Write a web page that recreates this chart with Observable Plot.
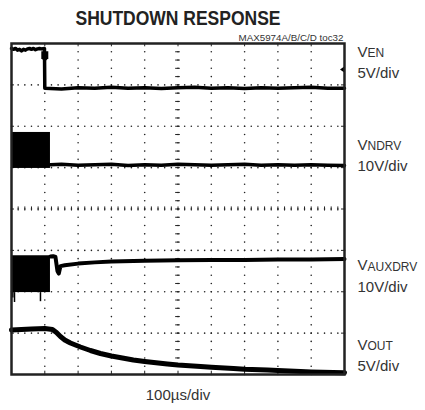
<!DOCTYPE html>
<html><head><meta charset="utf-8">
<script src="https://cdn.jsdelivr.net/npm/d3@7"></script>
<script src="https://cdn.jsdelivr.net/npm/@observablehq/plot@0.6"></script>
<style>body{margin:0;background:#fff}</style>
</head><body><div id="chart"></div>
<script>
// ---------- data (time in µs, level in divisions from bottom) ----------
const title = "SHUTDOWN RESPONSE";
const subtitle = "MAX5974A/B/C/D toc32";
const timeLabel = "100µs/div";
const chanMain = ["V", "V", "V", "V"];
const chanSub = ["EN", "NDRV", "AUXDRV", "OUT"];
const chanScale = ["5V/div", "10V/div", "10V/div", "5V/div"];

const enT = [0, 6, 12, 18, 24, 30, 36, 42, 48, 54, 60, 66, 72, 78, 84, 90, 99, 100, 150, 200, 250, 300, 350, 400, 450, 500, 550, 600, 650, 700, 750, 800, 850, 900, 950, 1000];
const enV = [7.88, 7.86, 7.88, 7.84, 7.86, 7.82, 7.86, 7.84, 7.87, 7.88, 7.86, 7.88, 7.85, 7.87, 7.88, 7.87, 7.88, 6.92, 6.9, 6.93, 6.92, 6.94, 6.92, 6.93, 6.91, 6.93, 6.94, 6.92, 6.93, 6.91, 6.93, 6.92, 6.93, 6.94, 6.92, 6.92];

const ndT = [117, 150, 200, 250, 300, 350, 400, 450, 500, 550, 600, 650, 700, 750, 800, 850, 900, 950, 1000];
const ndV = [5.07, 5.08, 5.06, 5.07, 5.08, 5.05, 5.07, 5.06, 5.08, 5.07, 5.06, 5.07, 5.08, 5.06, 5.07, 5.06, 5.07, 5.06, 5.05];

const auxT = [117, 125, 132, 138, 142, 147, 160, 200, 250, 300, 400, 500, 600, 700, 800, 900, 1000];
const auxV = [2.85, 2.86, 2.84, 2.5, 2.44, 2.62, 2.64, 2.68, 2.71, 2.73, 2.75, 2.76, 2.77, 2.77, 2.78, 2.78, 2.79];

const outT = [0, 30, 60, 100, 123, 135, 147, 160, 177, 207, 237, 267, 300, 333, 366, 400, 468, 500, 568, 600, 667, 700, 769, 800, 868, 900, 1000];
const outV = [1.075, 1.088, 1.1, 1.11, 1.088, 1.015, 0.918, 0.834, 0.761, 0.665, 0.58, 0.508, 0.447, 0.399, 0.35, 0.314, 0.254, 0.23, 0.193, 0.176, 0.145, 0.128, 0.109, 0.097, 0.073, 0.063, 0.041];

// switching bursts (NDRV, AUXDRV) before shutdown
const burstStart = [0, 0];
const burstEnd = [117, 117];
const burstTop = [5.85, 2.87];
const burstBottom = [4.98, 1.98];
// downward spikes under AUXDRV burst
const spikeT = [4, 9, 87];
const spikeLow = [1.85, 1.74, 1.76];
const spikeFrom = 1.98;

// markers
const trigT = [100], trigV = [7.69];
const gndT = [994], gndV = [7.37];

// ---------- layout ----------
const labelRow = [7.78, 5.55, 2.63, 0.72];
const rowGap = 0.508;

const zip = (a, b) => a.map((t, i) => ({t, v: b[i]}));
const en = zip(enT, enV), nd = zip(ndT, ndV), aux = zip(auxT, auxV), out = zip(outT, outV);
const bursts = burstStart.map((t0, i) => ({t0, t1: burstEnd[i], hi: burstTop[i], lo: burstBottom[i]}));
const spikes = spikeT.map((t, i) => ({t, lo: spikeLow[i]}));
const labels = chanMain.map((m, i) => ({m, s: chanSub[i], sc: chanScale[i], y: labelRow[i]}));

// grid scaffolding: 10 x 8 divisions, 5 subdivisions each
const gridDots = [];
for (let k = 1; k < 10; k++) for (let j = 0; j <= 40; j++) gridDots.push({x: k * 100, y: j * 0.2});
for (let k = 1; k < 8; k++) for (let j = 0; j <= 50; j++) gridDots.push({x: j * 20, y: k});
const subX = d3.range(0, 1001, 20), subY = d3.range(0, 8.01, 0.2);
const majX = d3.range(100, 1000, 100), majY = d3.range(1, 8, 1);

const trigSymbol = {draw(c) { c.moveTo(-3.5, -5); c.lineTo(3.5, -5); c.lineTo(3.5, 2); c.lineTo(0, 5.5); c.lineTo(-3.5, 2); c.closePath(); }};
const gndSymbol = {draw(c) { c.moveTo(-2.5, 0); c.lineTo(2.5, -3.5); c.lineTo(2.5, 3.5); c.closePath(); }};

const ink = "#111";
const chart = Plot.plot({
  width: 425, height: 410,
  marginLeft: 11, marginRight: 81, marginTop: 43, marginBottom: 36,
  x: {domain: [0, 1000], axis: null},
  y: {domain: [0, 8], axis: null},
  style: {fontFamily: "'Liberation Sans', Arial, sans-serif", background: "#fff", color: ink},
  marks: [
    Plot.dot(gridDots, {x: "x", y: "y", r: 0.8, fill: "#222", stroke: "none"}),
    Plot.ruleX(subX, {x: d => d, y1: 3.95, y2: 4.05, stroke: "#222", strokeWidth: 1}),
    Plot.ruleY(subY, {y: d => d, x1: 493, x2: 507, stroke: "#222", strokeWidth: 1}),
    Plot.ruleX(majX, {x: d => d, y1: 8, y2: 7.92, stroke: "#222"}),
    Plot.ruleX(majX, {x: d => d, y1: 0, y2: 0.08, stroke: "#222"}),
    Plot.ruleY(majY, {y: d => d, x1: 0, x2: 9, stroke: "#222"}),
    Plot.ruleY(majY, {y: d => d, x1: 1000, x2: 991, stroke: "#222"}),
    Plot.rect(bursts, {x1: "t0", x2: "t1", y1: "lo", y2: "hi", fill: "#000"}),
    Plot.ruleX(spikes, {x: "t", y1: spikeFrom, y2: "lo", stroke: "#000", strokeWidth: 1.5}),
    Plot.line(en, {x: "t", y: "v", stroke: "#000", strokeWidth: 3.5}),
    Plot.line(nd, {x: "t", y: "v", stroke: "#000", strokeWidth: 3.5}),
    Plot.line(aux, {x: "t", y: "v", stroke: "#000", strokeWidth: 4}),
    Plot.line(out, {x: "t", y: "v", stroke: "#000", strokeWidth: 5}),
    Plot.dot(trigT.map((t, i) => ({t, v: trigV[i]})), {x: "t", y: "v", symbol: trigSymbol, fill: "#000", stroke: "none", r: 4}),
    Plot.dot(gndT.map((t, i) => ({t, v: gndV[i]})), {x: "t", y: "v", symbol: gndSymbol, fill: "#000", stroke: "none", r: 3}),
    Plot.frame({stroke: "#222", strokeWidth: 2.5}),
    Plot.text([title], {frameAnchor: "top", lineAnchor: "middle", dy: -25.7, fontSize: 21, fontWeight: "bold", fill: "#222"}),
    Plot.text([subtitle], {frameAnchor: "top-right", lineAnchor: "middle", textAnchor: "end", dx: -1, dy: -6, fontSize: 9.5, fill: "#333"}),
    Plot.text([timeLabel], {frameAnchor: "bottom", lineAnchor: "middle", dy: 20.2, fontSize: 15, fill: "#333"}),
    Plot.text(labels, {x: 1000, y: "y", text: "m", dx: 13, textAnchor: "start", fontSize: 15, fill: "#333"}),
    Plot.text(labels, {x: 1000, y: "y", text: "s", dx: 23, dy: 1, textAnchor: "start", fontSize: 12, fill: "#333"}),
    Plot.text(labels, {x: 1000, y: d => d.y - rowGap, text: "sc", dx: 13, textAnchor: "start", fontSize: 15, fill: "#333"})
  ]
});
document.getElementById("chart").append(chart);
chart.querySelectorAll("text").forEach(el => {
  if (el.textContent === title) { el.setAttribute("textLength", 205); el.setAttribute("lengthAdjust", "spacingAndGlyphs"); }
  if (el.textContent === subtitle) { el.setAttribute("textLength", 105); el.setAttribute("lengthAdjust", "spacingAndGlyphs"); }
});
</script></body></html>
